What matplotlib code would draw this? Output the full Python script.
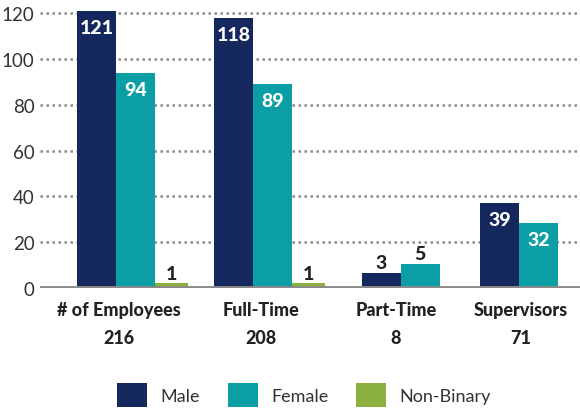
import matplotlib
matplotlib.use("Agg")
import matplotlib.pyplot as plt
from matplotlib.patches import Patch
import numpy as np

plt.rcParams['font.family'] = ['Lato', 'DejaVu Sans']

categories = ["# of Employees", "Full-Time", "Part-Time", "Supervisors"]
totals = ["216", "208", "8", "71"]
series = ["Male", "Female", "Non-Binary"]
# bar heights as drawn
male_h = [121, 118, 6.5, 37]
female_h = [94, 89, 10.5, 28.4]
nonbin_h = [2, 2, 0, 0]
# value labels as printed
male_lbl = ["121", "118", "3", "39"]
female_lbl = ["94", "89", "5", "32"]
nonbin_lbl = ["1", "1", "", ""]
yticks = [0, 20, 40, 60, 80, 100, 120]

colors = {"Male": "#15285e", "Female": "#0b9ea5", "Non-Binary": "#8cb03d"}

# layout
group_pos = [0, 1.072, 2.077, 3.0]
label_pos = [-0.129, 0.982, 2.038, 3.016]
w = 0.305
w_nb = 0.258

fig = plt.figure(figsize=(5.8, 4.14), dpi=100)
ax = fig.add_axes([40/580, 125/414, 540/580, 277/414])
ax.set_xlim(-0.747, 3.478)
ax.set_ylim(0, 121)

BOLD = "black"

for i, g in enumerate(group_pos):
    three = nonbin_h[i] > 0
    if three:
        xm, xf = g - w, g
    else:
        xm, xf = g - w/2, g + w/2
    bars = [(xm, w, male_h[i], male_lbl[i], "Male"),
            (xf, w, female_h[i], female_lbl[i], "Female")]
    if three:
        bars.append((g + w/2 + w_nb/2, w_nb, nonbin_h[i], nonbin_lbl[i], "Non-Binary"))
    for x, bw, h, lbl, s in bars:
        ax.bar(x, h, width=bw, color=colors[s], zorder=3, linewidth=0)
        if h > 20:
            ax.annotate(lbl, (x, h), xytext=(0, -12), textcoords="offset points",
                        ha="center", va="center", color="white",
                        fontsize=14, fontweight=BOLD, zorder=4)
        else:
            ax.annotate(lbl, (x, h), xytext=(0, 7.5), textcoords="offset points",
                        ha="center", va="center", color="#222222",
                        fontsize=14, fontweight=BOLD, zorder=4)

for y in yticks[1:]:
    ax.axhline(y, color="#8a8a8a", lw=1.8, linestyle=(0, (1, 1.4)), zorder=1)
ax.axhline(0, color="#8a8a8a", lw=3.5, zorder=5)

for s in ax.spines.values():
    s.set_visible(False)
ax.set_xticks([])
ax.set_yticks(yticks)
ax.tick_params(axis="y", length=0, pad=4, labelsize=13.5, labelcolor="#333333")

for i, lp in enumerate(label_pos):
    ax.annotate(categories[i], (lp, 0), xytext=(0, -15.5), textcoords="offset points",
                xycoords=("data", "axes fraction"), ha="center", va="center",
                fontsize=13, fontweight=BOLD, color="#222222")
    ax.annotate(totals[i], (lp, 0), xytext=(0, -35.5), textcoords="offset points",
                xycoords=("data", "axes fraction"), ha="center", va="center",
                fontsize=13, fontweight=BOLD, color="#222222")

handles = [Patch(facecolor=colors[s], edgecolor="none", label=s) for s in series]
leg = fig.legend(handles=handles, loc="center", bbox_to_anchor=(304/580, 1 - 396/414),
           ncol=3, frameon=False, fontsize=13, handlelength=1.65, handleheight=1.65,
           handletextpad=0.75, columnspacing=1.55, labelcolor="#333333")

fig.savefig("out.png", dpi=100)
